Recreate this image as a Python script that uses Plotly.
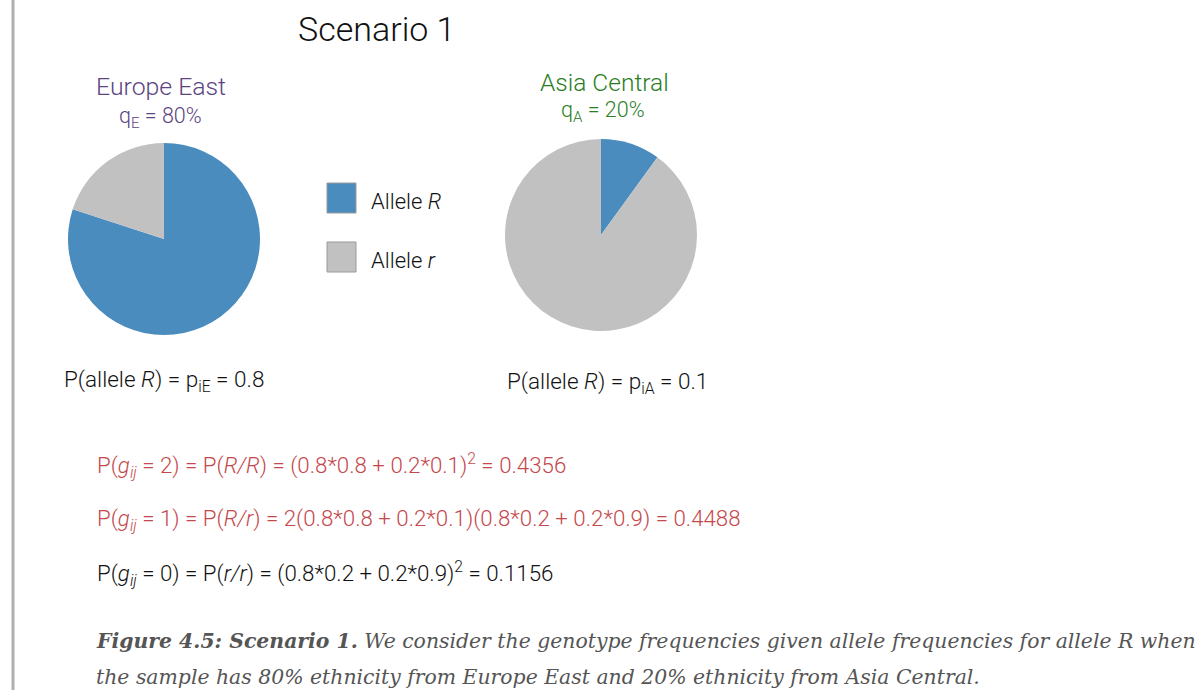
import plotly.graph_objects as go

W, H = 1201, 690

# data
alleles = ["Allele R", "Allele r"]
allele_colors = ["#4a8cbd", "#c1c1c1"]
europe_east = [0.8, 0.2]
asia_central = [0.1, 0.9]
q_europe = 80
q_asia = 20
p_europe = 0.8
p_asia = 0.1


def px(x):
    return x / W


def py(y):
    return 1 - y / H


sans = "Roboto"
fig = go.Figure()

fig.add_trace(go.Pie(
    labels=alleles, values=europe_east, sort=False, direction="clockwise",
    rotation=0, textinfo="none", hoverinfo="label+percent",
    marker=dict(colors=allele_colors, line=dict(width=0)),
    domain=dict(x=[px(68), px(260)], y=[py(335), py(143)]),
    showlegend=False,
))
fig.add_trace(go.Pie(
    labels=alleles, values=asia_central, sort=False, direction="clockwise",
    rotation=0, textinfo="none", hoverinfo="label+percent",
    marker=dict(colors=allele_colors, line=dict(width=0)),
    domain=dict(x=[px(505), px(697)], y=[py(331), py(139)]),
    showlegend=False,
))

annotations = []


def note(x, y, text, size=19, color="#111", anchor="left", family=sans, weight=300):
    annotations.append(dict(
        x=px(x), y=py(y), xref="paper", yref="paper", text=text,
        showarrow=False, xanchor=anchor, yanchor="middle",
        font=dict(family=family, size=size, color=color, weight=weight),
    ))


note(376, 29, "Scenario 1", size=34, anchor="center")
note(161, 87, "Europe East", size=24.8, color="#5c4482", anchor="center")
note(161, 117, f"q<sub>E</sub> = {q_europe}%", size=21.5, color="#5c4482", anchor="center")
note(604, 82, "Asia Central", size=24.5, color="#2a7d1f", anchor="center")
note(603, 112, f"q<sub>A</sub> = {q_asia}%", size=21.5, color="#2a7d1f", anchor="center")

# legend
shapes = []
for i, (lab, col) in enumerate(zip(alleles, allele_colors)):
    y0 = 183 + i * 59
    shapes.append(dict(type="rect", xref="paper", yref="paper",
                       x0=px(327), x1=px(356), y0=py(y0 + 30), y1=py(y0),
                       fillcolor=col, line=dict(color="#9a9a9a", width=1)))
    name, letter = lab.split(" ")
    note(369, y0 + 18, f"{name} <i>{letter}</i>", size=22)

note(62, 381, f"P(allele <i>R</i>) = p<sub>iE</sub> = {p_europe}", size=22.5)
note(505, 383, f"P(allele <i>R</i>) = p<sub>iA</sub> = {p_asia}", size=22.5)

red = "#c5484c"
note(95, 466, "P(<i>g<sub>ij</sub></i> = 2) = P(<i>R/R</i>) = (0.8*0.8 + 0.2*0.1)<sup>2</sup> = 0.4356",
     size=22.3, color=red)
note(95, 520, "P(<i>g<sub>ij</sub></i> = 1) = P(<i>R/r</i>) = 2(0.8*0.8 + 0.2*0.1)(0.8*0.2 + 0.2*0.9) = 0.4488",
     size=22.3, color=red)
note(95, 574, "P(<i>g<sub>ij</sub></i> = 0) = P(<i>r/r</i>) = (0.8*0.2 + 0.2*0.9)<sup>2</sup> = 0.1156",
     size=22.3, color="#111")

serif = "DejaVu Serif"
note(94, 641, "<b><i>Figure 4.5: Scenario 1.</i></b><i> We consider the genotype frequencies given allele frequencies for allele R when</i>",
     size=20.4, color="#555", family=serif, weight=None)
note(94, 677, "<i>the sample has 80% ethnicity from Europe East and 20% ethnicity from Asia Central.</i>",
     size=20.4, color="#555", family=serif, weight=None)

# left rule
shapes.append(dict(type="line", xref="paper", yref="paper",
                   x0=px(13), x1=px(13), y0=0, y1=1,
                   line=dict(color="#b0b0b0", width=3)))

fig.update_layout(
    width=W, height=H, margin=dict(l=0, r=0, t=0, b=0),
    paper_bgcolor="white", plot_bgcolor="white",
    annotations=annotations, shapes=shapes,
)

fig.write_html("out.html", config={"displayModeBar": False},
               post_script="document.body.style.margin='0px';document.body.style.overflow='hidden';")
